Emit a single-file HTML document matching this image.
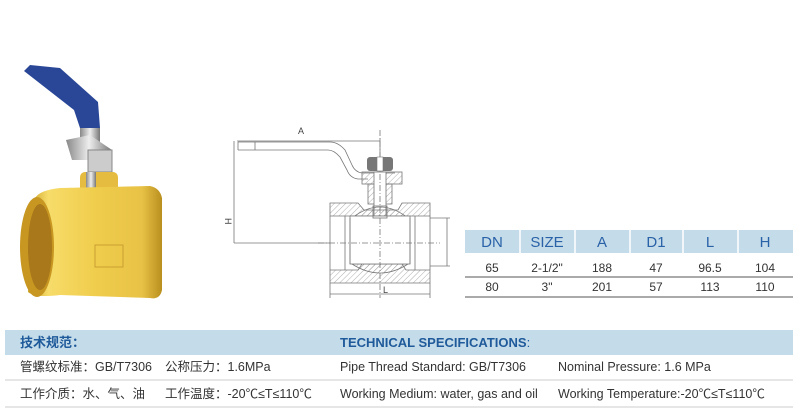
<!DOCTYPE html>
<html><head><meta charset="utf-8"><style>
body{margin:0;width:800px;height:413px;background:#fff;overflow:hidden;position:relative;font-family:"Liberation Sans","Noto Sans CJK SC",sans-serif}
.a{position:absolute}
.t{position:absolute;font-size:12.5px;color:#333;white-space:nowrap;line-height:16px}
</style></head><body>
<svg class="a" style="left:0;top:0" width="800" height="413">
<defs>
<linearGradient id="br" x1="0" x2="1"><stop offset="0" stop-color="#c9a025"/><stop offset=".15" stop-color="#f7dc6a"/><stop offset=".5" stop-color="#f0cd4c"/><stop offset=".85" stop-color="#e8c246"/><stop offset="1" stop-color="#b98f1e"/></linearGradient>
<linearGradient id="st" x1="0" x2="1"><stop offset="0" stop-color="#888"/><stop offset=".5" stop-color="#eee"/><stop offset="1" stop-color="#777"/></linearGradient>
<pattern id="h" width="4" height="4" patternUnits="userSpaceOnUse" patternTransform="rotate(45)"><line x1="0" y1="0" x2="0" y2="4" stroke="#999" stroke-width="0.8"/></pattern>
</defs>
<!-- photo valve -->
<polygon points="24,71 30,65 60,68 98,102 100,128 80,128 74,110" fill="#2a4797"/>
<rect x="80" y="128" width="20" height="22" fill="url(#st)"/>
<polygon points="66,140 90,135 112,150 110,160 72,160" fill="url(#st)"/>
<rect x="88" y="150" width="24" height="22" fill="#ccc" stroke="#888"/>
<rect x="80" y="172" width="38" height="20" rx="5" fill="#e5bb40"/>
<rect x="86" y="172" width="10" height="28" fill="url(#st)"/>
<path d="M35,198 Q40,190 60,188 L150,186 Q160,188 162,198 L162,290 Q160,300 150,298 L60,295 Q35,298 28,292 Z" fill="url(#br)"/>
<ellipse cx="37" cy="247" rx="17" ry="50" fill="#c89722"/>
<ellipse cx="40" cy="247" rx="12" ry="43" fill="#a8781a"/>
<rect x="95" y="245" width="28" height="22" fill="none" stroke="#c9a030"/>
<!-- drawing -->
<g fill="none" stroke="#777" stroke-width="0.8">
<line x1="237" y1="141" x2="380" y2="141"/>
<line x1="380" y1="138" x2="380" y2="160"/>
<line x1="234" y1="141" x2="234" y2="243"/>
<line x1="234" y1="243" x2="330" y2="243"/>
<path d="M238,142 L330,142 Q338,142 345,150 L352,165 Q355,172 362,173 L395,173"/>
<path d="M238,150 L328,150 Q334,150 340,157 L347,170 Q350,178 358,179 L368,179"/>
<line x1="238" y1="142" x2="238" y2="150"/>
<line x1="255" y1="142" x2="255" y2="150"/>
<rect x="362" y="172" width="40" height="12" fill="url(#h)"/>
<rect x="368" y="184" width="24" height="20" fill="url(#h)"/>
<rect x="374" y="172" width="12" height="52" fill="#fff"/>
<path d="M330,203 L358,203 L364,210 L398,210 L402,203 L430,203 L430,216 L330,216 Z" fill="url(#h)"/>
<path d="M330,270 L358,270 L362,264 L402,264 L406,270 L430,270 L430,283 L330,283 Z" fill="url(#h)"/>
<path d="M352,218 Q380,196 408,218 Z" fill="url(#h)"/>
<path d="M352,264 Q380,282 408,264 Z" fill="url(#h)"/>
<rect x="350" y="216" width="60" height="48" fill="#fff"/>
<line x1="350" y1="218" x2="350" y2="264"/><line x1="410" y1="218" x2="410" y2="264"/>
<line x1="345" y1="216" x2="345" y2="270"/><line x1="415" y1="216" x2="415" y2="270"/>
<line x1="330" y1="216" x2="330" y2="270"/><line x1="430" y1="216" x2="430" y2="270"/>
<rect x="373" y="206" width="14" height="12"/>
<line x1="380" y1="130" x2="380" y2="298" stroke-dasharray="6,2,1,2"/>
<line x1="318" y1="243" x2="440" y2="243" stroke-dasharray="6,2,1,2"/>
<line x1="330" y1="283" x2="330" y2="298"/><line x1="430" y1="283" x2="430" y2="298"/>
<line x1="330" y1="294" x2="430" y2="294"/>
<line x1="430" y1="218" x2="450" y2="218"/><line x1="430" y1="266" x2="450" y2="266"/>
<line x1="447" y1="218" x2="447" y2="266"/>
</g>
<rect x="367" y="157" width="26" height="14" rx="3" fill="#777"/>
<rect x="377" y="157" width="6" height="14" fill="#fff" stroke="#777" stroke-width=".6"/>
<text x="298" y="134" font-size="9" fill="#444" font-family="Liberation Sans">A</text>
<text x="383" y="293" font-size="9" fill="#444" font-family="Liberation Sans">L</text>
<text x="226" y="223" font-size="9" fill="#444" font-family="Liberation Sans" transform="rotate(90 228 220)">H</text>
<!-- table -->
<rect x="465" y="230" width="328" height="23" fill="#c4dbe9"/>
<g stroke="#fff" stroke-width="1.5"><line x1="520" y1="230" x2="520" y2="253"/><line x1="575" y1="230" x2="575" y2="253"/><line x1="630" y1="230" x2="630" y2="253"/><line x1="683" y1="230" x2="683" y2="253"/><line x1="738" y1="230" x2="738" y2="253"/></g>
<line x1="465" y1="277" x2="793" y2="277" stroke="#555"/>
<line x1="465" y1="297" x2="793" y2="297" stroke="#555"/>
<g font-family="Liberation Sans" text-anchor="middle">
<g font-size="15" fill="#2a62a8"><text x="492" y="247">DN</text><text x="547" y="247">SIZE</text><text x="602" y="247">A</text><text x="656" y="247">D1</text><text x="710" y="247">L</text><text x="765" y="247">H</text></g>
<g font-size="12" fill="#333"><text x="492" y="272">65</text><text x="547" y="272">2-1/2"</text><text x="602" y="272">188</text><text x="656" y="272">47</text><text x="710" y="272">96.5</text><text x="765" y="272">104</text>
<text x="492" y="291">80</text><text x="547" y="291">3"</text><text x="602" y="291">201</text><text x="656" y="291">57</text><text x="710" y="291">113</text><text x="765" y="291">110</text></g>
</g>
<!-- specs -->
<rect x="5" y="330" width="788" height="25" fill="#c4dbe9"/>
<line x1="5" y1="380" x2="793" y2="380" stroke="#ccc"/>
<line x1="5" y1="407" x2="793" y2="407" stroke="#ccc"/>
</svg>
<div class="t" style="left:20px;top:335px;color:#1f5a9a;font-weight:bold;font-size:13px">技术规范：</div>
<div class="t" style="left:340px;top:335px;color:#1f5a9a;font-weight:bold;font-size:13px">TECHNICAL SPECIFICATIONS<span style="font-weight:normal">:</span></div>
<div class="t" style="left:20px;top:359px">管螺纹标准：GB/T7306</div>
<div class="t" style="left:165px;top:359px">公称压力：1.6MPa</div>
<div class="t" style="left:340px;top:359px">Pipe Thread Standard: GB/T7306</div>
<div class="t" style="left:558px;top:359px">Nominal Pressure: 1.6 MPa</div>
<div class="t" style="left:20px;top:386px">工作介质：水、气、油</div>
<div class="t" style="left:165px;top:386px">工作温度：-20℃≤T≤110℃</div>
<div class="t" style="left:340px;top:386px">Working Medium: water, gas and oil</div>
<div class="t" style="left:558px;top:386px">Working Temperature:-20℃≤T≤110℃</div>
</body></html>
